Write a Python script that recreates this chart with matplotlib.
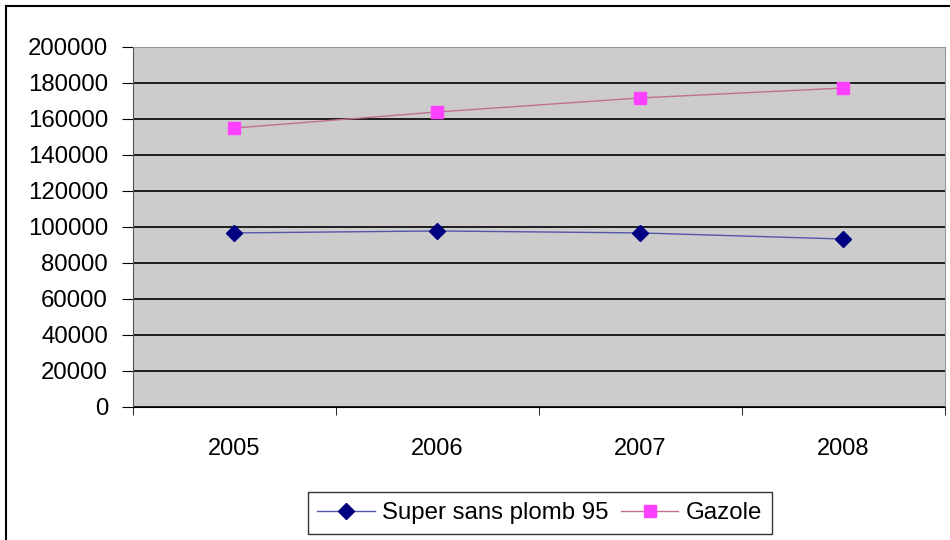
import numpy as np
import matplotlib.pyplot as plt
from matplotlib.lines import Line2D

plt.rcParams['font.family'] = ['Liberation Sans', 'DejaVu Sans']

years = ['2005', '2006', '2007', '2008']
super95 = [96700, 97800, 96700, 93300]
gazole = [155000, 163900, 171700, 177200]

fig = plt.figure(figsize=(9.5, 5.4), dpi=100)
ax = fig.add_axes([0.14, 0.2463, 0.8547, 0.6667])
ax.set_facecolor('#cccccc')

x = np.arange(len(years))
ax.plot(x, super95, color='#5555aa', lw=1, marker='D', ms=8.5,
        mfc='#000080', mec='#000080', label='Super sans plomb 95')
ax.plot(x, gazole, color='#c07090', lw=1, marker='s', ms=8,
        mfc='#ff40ff', mec='#ff40ff', label='Gazole')

ax.set_xlim(-0.5, len(years) - 0.5)
ax.set_ylim(0, 200000)
ax.set_yticks(np.arange(0, 200001, 20000))
ax.set_yticklabels([str(v) for v in range(0, 200001, 20000)], fontsize=17.3)
ax.yaxis.grid(True, color='black', lw=1.2)
ax.set_axisbelow(True)

ax.set_xticks(x)
ax.set_xticklabels(years, fontsize=17)
ax.set_xticks(np.arange(-0.5, len(years)), minor=True)
ax.tick_params(axis='x', which='major', length=0, pad=22)
ax.tick_params(axis='x', which='minor', length=6, color='black')
ax.tick_params(axis='y', length=8, color='black', pad=10)

for s in ['top', 'right']:
    ax.spines[s].set_color('#999999')
ax.spines['left'].set_color('#555555')
ax.spines['bottom'].set_color('black')

leg = ax.legend(loc='center', bbox_to_anchor=(0.568, 0.05), bbox_transform=fig.transFigure,
                ncol=2, fontsize=17.3, frameon=True, fancybox=False, edgecolor='black',
                handlelength=2.4, handletextpad=0.3, columnspacing=0.5, borderpad=0.4)
leg.get_frame().set_linewidth(1)

# outer chart border
fig.add_artist(Line2D([6 / 950, 1], [1 - 6 / 540, 1 - 6 / 540], color='black', lw=1.5))
fig.add_artist(Line2D([6 / 950, 6 / 950], [0, 1 - 6 / 540], color='black', lw=1.5))

fig.savefig('out.png', dpi=100)
